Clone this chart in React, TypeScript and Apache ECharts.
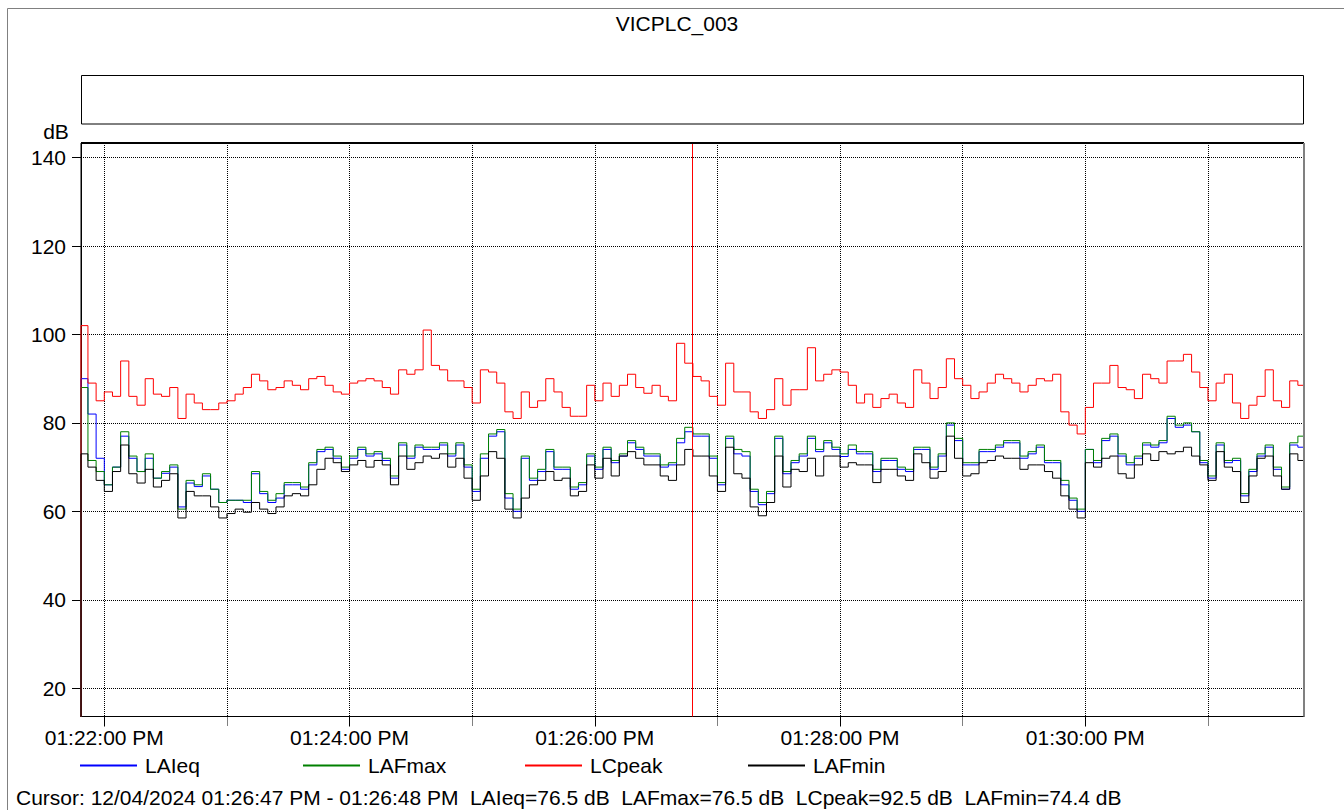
import React, { useEffect, useRef } from 'react';
import * as echarts from 'echarts';

// ---- time axis (seconds relative to 01:22:00 PM) ----
const startSec = -11.4;
const endSec = 587;
const stepSec = 4;
const firstEndSec = -8;
const cursorSec = 287.5;
const preStartLevel = 0;

const minuteTicks = [0, 60, 120, 180, 240, 300, 360, 420, 480, 540];
const labelTicks = [0, 120, 240, 360, 480];
const timeLabels = ['01:22:00 PM', '01:24:00 PM', '01:26:00 PM', '01:28:00 PM', '01:30:00 PM'];
const dbTicks = [20, 40, 60, 80, 100, 120, 140];

const seriesNames = ['LAIeq', 'LAFmax', 'LCpeak', 'LAFmin'];
const seriesColors = ['#0000ff', '#008000', '#ff0000', '#000000'];

const lcpeak = [
  102, 89, 85, 87, 86, 94, 86, 84, 90, 86.5, 86, 88, 81, 86.5, 84.5, 83, 83, 84.5, 85,
  86.5, 88, 91, 89.5, 87.5, 88, 89.5, 88.5, 87.5, 90, 90.5, 88.5, 87, 86.5, 89, 89.5, 90, 89.5, 88,
  86.5, 92, 91, 92, 101, 93, 92, 89.5, 89.5, 88, 84.5, 92, 91.5, 89, 82.5, 81, 87, 83.5, 85,
  90, 87, 83.5, 81.5, 81.5, 88.5, 85, 89, 86, 88.5, 91, 88, 86.7, 88.5, 86, 85, 98, 93.5, 90.5,
  89.5, 86, 84, 93.5, 87, 87, 82.5, 81, 83, 90, 84, 87.5, 87.5, 97, 89.5, 91, 92, 91.5, 88.5,
  84.5, 86.5, 83.5, 85.5, 86.5, 84.5, 83.5, 92, 89, 85.5, 88, 94.5, 90, 88.5, 85.5, 87, 89, 91, 90,
  89, 87, 88.5, 90, 89.5, 91, 82.5, 79.5, 77.5, 83.5, 89, 89, 93, 88, 87.5, 85.5, 91, 90, 89,
  94, 94, 95.5, 91.5, 88, 85, 89, 91, 84.5, 81, 84, 86, 92, 85, 83.5, 89.5, 88.5,
];

const laieq = [
  90, 82, 72, 66, 70, 77, 72, 69, 72, 67.5, 68.6, 70, 61, 66.4, 65.6, 68, 65, 62, 62.5,
  62.5, 62, 68.5, 64, 62, 63, 66, 66, 65, 70.5, 73.5, 74, 72, 69.5, 72, 74, 72.5, 73, 71.5,
  67.5, 75, 72, 74.5, 74, 74, 75, 72.5, 75, 70, 64.5, 72, 77, 78, 63, 60, 72, 67, 69,
  73.5, 69.5, 69.5, 65, 66, 72.5, 69.5, 74, 71, 72.5, 75.5, 74, 72.5, 72.5, 70, 70.5, 75.5, 78, 77,
  77, 72, 66, 76.5, 73, 72.5, 64.5, 61.5, 64, 76.5, 68.5, 71, 72.5, 76.5, 73.5, 75.5, 74, 72.4, 74,
  73, 73, 69, 71.5, 71.5, 69.5, 69, 74, 74, 69.5, 72.5, 79.5, 76, 70.5, 70.5, 73.5, 73.5, 74.5, 75.5,
  75.5, 72, 73, 74.5, 71, 71, 66, 62.5, 60, 74, 71, 76, 77, 72.5, 70.5, 72, 75, 74.5, 75.5,
  81, 79, 79.5, 78, 71, 67.5, 75, 71, 71.5, 63.5, 69, 72.5, 74.5, 69.5, 65, 75, 74.5,
];

const lafmax = [
  88, 71.5, 69, 66, 70, 78, 72.5, 69, 73, 67.5, 69, 70.5, 60.5, 67, 66, 68.5, 65, 62, 62.5,
  62.5, 62.5, 69, 64.5, 62.5, 64, 66.5, 66.5, 65.5, 71, 74, 74.5, 72.5, 70, 72.5, 74.5, 73, 73.5, 72,
  68, 75.5, 72.5, 75, 74.5, 74.5, 75.5, 73, 75.5, 70.5, 65, 73, 77.5, 78.5, 64, 60.5, 72.5, 67.5, 69.5,
  74, 70, 70, 65.5, 66.5, 73, 70, 74.5, 71.5, 73, 76, 74.5, 73, 73, 70.5, 71, 76.5, 79, 77.5,
  77.5, 72.5, 66.5, 77, 74, 73.5, 65, 62, 64.5, 77, 69, 71.5, 73, 77, 74, 76, 74.5, 73, 75,
  73.5, 73.5, 69.5, 72, 72, 70, 69.5, 74.5, 74.5, 70, 73, 80, 76.5, 71, 71, 74, 74, 75, 76,
  76, 72.5, 73.5, 75, 71.5, 71.5, 67, 63, 60.5, 74, 71.5, 76.5, 77.5, 73, 71, 72.5, 75.5, 75, 76,
  81.5, 79.5, 80, 78, 71.5, 68, 75.5, 71.5, 72, 64, 69.5, 73, 75, 70, 65.5, 75.5, 77,
];

const lafmin = [
  73, 70, 67, 64.5, 69, 75, 68.5, 66.4, 69.5, 65.5, 67, 68.5, 58.5, 64.5, 63.5, 63.5, 61, 58.5, 59.5,
  60.5, 59.8, 62, 60.5, 59.5, 61, 63.5, 64, 63.5, 66, 69.5, 72, 71, 69, 70.5, 71.5, 70, 71.5, 70.5,
  66, 72.5, 69.5, 71, 72.5, 72, 73, 70, 72, 67.5, 62.5, 68, 73.5, 72, 60.5, 58.5, 63, 66, 67,
  69, 67, 67.5, 63.5, 64.5, 70.5, 67.5, 72, 68, 72.5, 73.5, 72, 70.5, 70.5, 68, 67, 70.5, 74, 72.5,
  72.5, 68, 64.5, 74.5, 68.5, 67.5, 61, 59, 62, 72.5, 65.5, 69.5, 69, 72, 68, 72.5, 72.5, 70, 71,
  70.5, 70.5, 66.5, 69.5, 69.5, 68, 67, 73, 71, 67.5, 69, 77, 72, 68, 68.5, 71, 71.5, 72.5, 72,
  72, 69.5, 70.5, 70.5, 69, 67.5, 63.5, 60.5, 58.5, 71, 70, 72, 72.5, 68.5, 67.5, 70.5, 73, 71.5, 73.5,
  73, 73.5, 74.5, 72.5, 70.5, 67, 73.5, 70, 69, 62, 68, 72, 72.5, 68, 65, 73, 71.5,
];

const seriesValues = [laieq, lafmax, lcpeak, lafmin];

const cursorText =
  'Cursor: 12/04/2024 01:26:47 PM - 01:26:48 PM  LAIeq=76.5 dB  LAFmax=76.5 dB  LCpeak=92.5 dB  LAFmin=74.4 dB';

const FONT = '"Liberation Sans", Arial, sans-serif';

function toPoints(values: number[]) {
  const pts: number[][] = [[startSec, preStartLevel]];
  values.forEach((v, i) => pts.push([firstEndSec + stepSec * i, v]));
  return pts;
}

export default function App() {
  const ref = useRef<HTMLDivElement>(null);
  useEffect(() => {
    if (!ref.current) return;
    const chart = echarts.init(ref.current, undefined, { renderer: 'svg' });
    const legendLefts = [80, 303, 525, 748];
    const option: any = {
      animation: false,
      backgroundColor: '#ffffff',
      textStyle: { fontFamily: FONT, color: '#000' },
      grid: {
        left: 81,
        top: 143,
        width: 1223,
        height: 573.5,
        show: true,
        borderColor: '#000',
        borderWidth: 1,
        backgroundColor: 'transparent',
      },
      legend: seriesNames.map((n, i) => ({
        data: [n],
        left: legendLefts[i],
        top: 755,
        padding: 0,
        icon: 'path://M0,0 L57,0 L57,2 L0,2 Z',
        itemWidth: 57,
        itemHeight: 2,
        selectedMode: false,
        itemStyle: {
          color: seriesColors[i],
          borderColor: seriesColors[i],
          borderWidth: 0,
          opacity: 1,
        },
        lineStyle: { color: seriesColors[i], width: 0, inactiveWidth: 0 },
        textStyle: { fontSize: 21, fontFamily: FONT, color: '#000', padding: [0, 0, 0, 3] },
      })),
      xAxis: [
        {
          type: 'value',
          min: startSec,
          max: endSec,
          position: 'bottom',
          axisLine: { show: true, onZero: false, lineStyle: { color: '#000', width: 1 } },
          axisTick: {
            show: true,
            customValues: minuteTicks,
            length: 10,
            lineStyle: { color: '#000', type: [1, 1] },
          },
          axisLabel: { show: false },
          splitLine: { show: true, lineStyle: { color: '#000', width: 1, type: [1, 1] } },
        },
        {
          type: 'value',
          min: startSec,
          max: endSec,
          position: 'bottom',
          axisLine: { show: false, onZero: false },
          axisTick: { show: true, customValues: labelTicks, length: 10, lineStyle: { color: '#000' } },
          axisLabel: {
            show: true,
            customValues: labelTicks,
            formatter: (v: number) => timeLabels[labelTicks.indexOf(v)] ?? '',
            fontSize: 21,
            fontFamily: FONT,
            color: '#000',
            margin: 10,
          },
          splitLine: { show: false },
        },
      ],
      yAxis: {
        type: 'value',
        min: 13.6,
        max: 143.3,
        axisLine: { show: true, onZero: false, lineStyle: { color: '#000' } },
        axisTick: { show: true, customValues: dbTicks, length: 9, lineStyle: { color: '#000' } },
        axisLabel: { customValues: dbTicks, fontSize: 21, fontFamily: FONT, color: '#000', margin: 15 },
        splitLine: { show: true, lineStyle: { color: '#000', width: 1, type: [1, 1] } },
      },
      series: seriesNames.map((n, i) => ({
        name: n,
        type: 'line',
        xAxisIndex: 0,
        step: 'start',
        symbol: 'none',
        showSymbol: false,
        clip: true,
        color: seriesColors[i],
        itemStyle: { color: seriesColors[i] },
        lineStyle: { color: seriesColors[i], width: 1 },
        data: toPoints(seriesValues[i]),
        markLine:
          i === 3
            ? {
                silent: true,
                symbol: 'none',
                label: { show: false },
                lineStyle: { color: '#ff0000', type: 'solid', width: 1 },
                data: [{ xAxis: cursorSec }],
              }
            : undefined,
      })),
      graphic: [
        {
          type: 'rect',
          silent: true,
          shape: { x: 7.5, y: 8.5, width: 1400, height: 900 },
          style: { fill: 'none', stroke: '#808080', lineWidth: 1 },
        },
        {
          type: 'line',
          silent: true,
          z: 10,
          shape: { x1: 81, y1: 143, x2: 1304, y2: 143 },
          style: { stroke: '#000', lineWidth: 2 },
        },
        {
          type: 'line',
          silent: true,
          z: 10,
          shape: { x1: 1304, y1: 143, x2: 1304, y2: 716.5 },
          style: { stroke: '#808080', lineWidth: 2 },
        },
        {
          type: 'text',
          silent: true,
          x: 677,
          y: 23,
          style: {
            text: 'VICPLC_003',
            fontSize: 21,
            fontFamily: FONT,
            fill: '#000',
            align: 'center',
            verticalAlign: 'middle',
          },
        },
        {
          type: 'rect',
          silent: true,
          shape: { x: 81.5, y: 75.5, width: 1222, height: 48.5 },
          style: { fill: 'none', stroke: '#000', lineWidth: 1 },
        },
        {
          type: 'text',
          silent: true,
          x: 56,
          y: 131,
          style: { text: 'dB', fontSize: 21, fontFamily: FONT, fill: '#000', align: 'center', verticalAlign: 'middle' },
        },
        {
          type: 'text',
          silent: true,
          x: 16,
          y: 797,
          style: { text: cursorText, fontSize: 21, fontFamily: FONT, fill: '#000', align: 'left', verticalAlign: 'middle' },
        },
      ],
    };
    chart.setOption(option);
    return () => chart.dispose();
  }, []);
  return <div ref={ref} style={{ position: 'fixed', left: 0, top: 0, width: 1344, height: 810 }} />;
}
